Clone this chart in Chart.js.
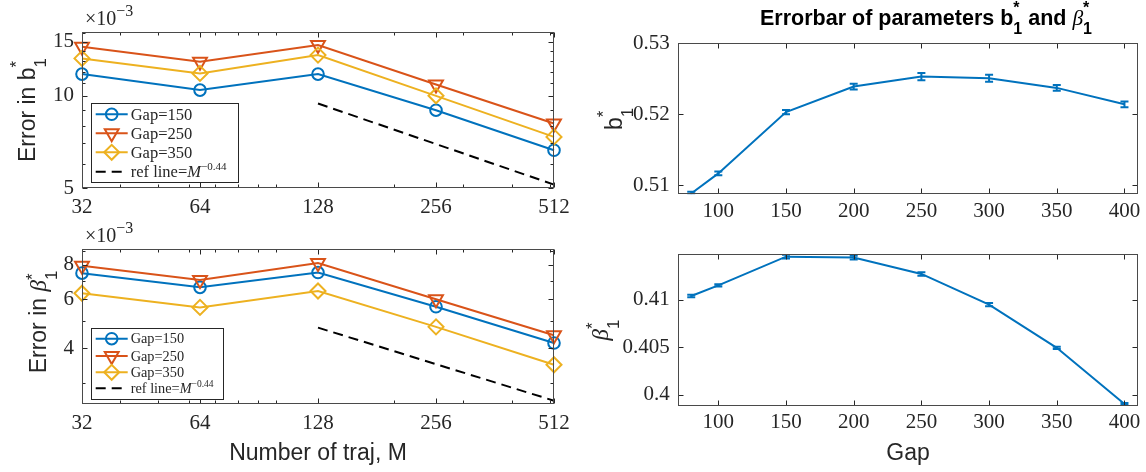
<!DOCTYPE html>
<html>
<head>
<meta charset="utf-8">
<script src="https://cdn.jsdelivr.net/npm/chart.js@4.4.1/dist/chart.umd.min.js"></script>
<style>
html, body { margin: 0; padding: 0; background: #fff; }
#wrap { position: relative; width: 1146px; height: 472px; overflow: hidden; }
#wrap canvas { position: absolute; left: 0; top: 0; }
</style>
</head>
<body>
<div id="wrap">
<canvas id="errB1" width="1146" height="472"></canvas>
<canvas id="errBeta" width="1146" height="472"></canvas>
<canvas id="b1" width="1146" height="472"></canvas>
<canvas id="beta" width="1146" height="472"></canvas>
</div>
<script>
// number of trajectories M
const trajM = [32, 64, 128, 256, 512];
// error in b1*, units of 1e-3
const errB1Gap150 = [11.77, 10.44, 11.77, 8.98, 6.65];
const errB1Gap250 = [14.45, 12.91, 14.64, 10.89, 8.13];
const errB1Gap350 = [13.24, 11.83, 13.57, 10.0, 7.35];
// error in beta1*, units of 1e-3
const errBetaGap150 = [7.46, 6.63, 7.5, 5.64, 4.17];
const errBetaGap250 = [7.93, 7.05, 8.12, 6.0, 4.45];
const errBetaGap350 = [6.31, 5.61, 6.43, 4.77, 3.48];
// reference line M^-0.44, end points
const refM = [128, 512];
const refB1 = [9.44, 5.14];
const refBeta = [4.74, 2.58];

// parameter estimates vs gap
const gaps = [80, 100, 150, 200, 250, 300, 350, 400];
const b1Mean = [0.50882, 0.51165, 0.5203, 0.5239, 0.5253, 0.52507, 0.52371, 0.52139];
const b1Err = [0.00025, 0.00025, 0.0003, 0.0004, 0.0005, 0.0005, 0.0004, 0.0004];
const betaMean = [0.41042, 0.41154, 0.41456, 0.41446, 0.41274, 0.40951, 0.40496, 0.39905];
const betaErr = [0.00012, 0.00012, 0.0002, 0.0002, 0.00018, 0.00016, 0.00012, 0.0001];

// tick labels
const mTicks = [32, 64, 128, 256, 512];
const mMinor = [40, 50, 60, 70, 80, 90, 100, 200, 300, 400, 500];
const errB1Ticks = [5, 10, 15];
const errB1Minor = [6, 7, 8, 9, 11, 12, 13, 14, 16];
const errBetaTicks = [4, 6, 8];
const errBetaMinor = [3, 5, 7, 9];
const gapTicks = [100, 150, 200, 250, 300, 350, 400];
const b1Ticks = [0.51, 0.52, 0.53];
const betaTicks = [0.4, 0.405, 0.41];

const W = 1146, H = 472;
const BLUE = '#0072BD', RED = '#D95319', YELLOW = '#EDB120';
const AXIS = '#262626';
const SERIF = '"Liberation Serif", "Times New Roman", serif';
const SANS = '"Liberation Sans", Arial, sans-serif';

const decoById = {};

function drawRich(ctx, runs, x, y, align, rot) {
    ctx.save();
    ctx.translate(x, y);
    if (rot) ctx.rotate(rot);
    ctx.textBaseline = 'alphabetic';
    ctx.textAlign = 'left';
    const ws = runs.map((r) => {
        ctx.font = r.f;
        if (r.t !== undefined) return ctx.measureText(r.t).width;
        return Math.max(r.sub ? ctx.measureText(r.sub).width : 0, r.sup ? ctx.measureText(r.sup).width : 0);
    });
    const total = ws.reduce((a, b) => a + b, 0);
    let cx = align === 'center' ? -total / 2 : align === 'right' ? -total : 0;
    runs.forEach((r, i) => {
        ctx.font = r.f;
        ctx.fillStyle = r.c || AXIS;
        if (r.t !== undefined) {
            ctx.fillText(r.t, cx, 0);
        } else {
            if (r.sub) ctx.fillText(r.sub, cx, r.dSub);
            if (r.sup) ctx.fillText(r.sup, cx, r.dSup);
        }
        cx += ws[i];
    });
    ctx.restore();
}

function marker(ctx, style, x, y, r) {
    ctx.beginPath();
    if (style === 'circle') {
        ctx.arc(x, y, r, 0, Math.PI * 2);
    } else if (style === 'triangle') {
        const s = r * Math.sin(Math.PI / 3);
        ctx.moveTo(x - s, y - r / 2);
        ctx.lineTo(x + s, y - r / 2);
        ctx.lineTo(x, y + r);
        ctx.closePath();
    } else {
        ctx.moveTo(x - r, y);
        ctx.lineTo(x, y - r);
        ctx.lineTo(x + r, y);
        ctx.lineTo(x, y + r);
        ctx.closePath();
    }
    ctx.stroke();
}

function drawLegend(ctx, lg) {
    ctx.save();
    ctx.fillStyle = '#fff';
    ctx.fillRect(lg.x, lg.y, lg.w, lg.h);
    ctx.strokeStyle = AXIS;
    ctx.lineWidth = 1;
    ctx.strokeRect(Math.round(lg.x) + 0.5, Math.round(lg.y) + 0.5, Math.round(lg.w), Math.round(lg.h));
    lg.rows.forEach((row, i) => {
        const y = lg.rowY[i];
        ctx.strokeStyle = row.color;
        ctx.lineWidth = 2;
        ctx.setLineDash(row.dash || []);
        ctx.beginPath();
        ctx.moveTo(lg.x + 5, y);
        ctx.lineTo(lg.x + 37, y);
        ctx.stroke();
        ctx.setLineDash([]);
        if (row.marker) marker(ctx, row.marker, lg.x + 21, y, row.r);
        drawRich(ctx, row.label, lg.x + 40, y + lg.fs * 0.33, 'left');
    });
    ctx.restore();
}

function drawErrorBars(chart, eb) {
    const ctx = chart.ctx, a = chart.chartArea;
    const xs = chart.scales.x, ys = chart.scales.y;
    ctx.save();
    ctx.beginPath();
    ctx.rect(a.left, a.top, a.right - a.left, a.bottom - a.top);
    ctx.clip();
    ctx.strokeStyle = BLUE;
    ctx.lineWidth = 2;
    eb.x.forEach((g, i) => {
        const px = xs.getPixelForValue(g);
        const y1 = ys.getPixelForValue(eb.y[i] - eb.e[i]);
        const y2 = ys.getPixelForValue(eb.y[i] + eb.e[i]);
        ctx.beginPath();
        ctx.moveTo(px, y1); ctx.lineTo(px, y2);
        ctx.moveTo(px - 4, y1); ctx.lineTo(px + 4, y1);
        ctx.moveTo(px - 4, y2); ctx.lineTo(px + 4, y2);
        ctx.stroke();
    });
    ctx.restore();
}

const decoPlugin = {
    id: 'deco',
    afterDatasetsDraw(chart) {
        const d = decoById[chart.canvas.id];
        if (d && d.err) drawErrorBars(chart, d.err);
    },
    afterDraw(chart) {
        const d = decoById[chart.canvas.id];
        if (!d) return;
        const ctx = chart.ctx, a = chart.chartArea;
        const xs = chart.scales.x, ys = chart.scales.y;
        ctx.save();
        ctx.strokeStyle = AXIS;
        ctx.lineWidth = 1;
        const L = Math.round(a.left) + 0.5, R = Math.round(a.right) - 0.5;
        const T = Math.round(a.top) + 0.5, B = Math.round(a.bottom) - 0.5;
        function xTicks(vals, len) {
            vals.forEach((v) => {
                const p = Math.round(xs.getPixelForValue(v)) + 0.5;
                ctx.beginPath();
                ctx.moveTo(p, B); ctx.lineTo(p, B - len);
                ctx.moveTo(p, T); ctx.lineTo(p, T + len);
                ctx.stroke();
            });
        }
        function yTicks(vals, len) {
            vals.forEach((v) => {
                const p = Math.round(ys.getPixelForValue(v)) + 0.5;
                ctx.beginPath();
                ctx.moveTo(L, p); ctx.lineTo(L + len, p);
                ctx.moveTo(R, p); ctx.lineTo(R - len, p);
                ctx.stroke();
            });
        }
        xTicks(d.xTicks, 5);
        yTicks(d.yTicks, 5);
        if (d.xMinor) xTicks(d.xMinor, 3);
        if (d.yMinor) yTicks(d.yMinor, 3);
        ctx.strokeStyle = '#4a4a4a';
        ctx.strokeRect(L, T, R - L, B - T);
        ctx.restore();

        if (d.legend) drawLegend(ctx, d.legend);
        if (d.ylabel) drawRich(ctx, d.ylabel.runs, d.ylabel.x, d.ylabel.y, 'center', -Math.PI / 2);
        if (d.xlabel) drawRich(ctx, d.xlabel.runs, d.xlabel.x, d.xlabel.y, 'center');
        if (d.title) drawRich(ctx, d.title.runs, d.title.x, d.title.y, 'left');
        if (d.exponent) drawRich(ctx, d.exponent.runs, d.exponent.x, d.exponent.y, 'left');
    }
};

function makeChart(id, area, cfg) {
    const yW = 60, xH = 40;
    decoById[id] = cfg.deco;
    const axisCommon = {
        bounds: 'data',
        grid: { display: true, drawOnChartArea: false, drawTicks: false },
        border: { display: false },
    };
    return new Chart(document.getElementById(id), {
        type: 'line',
        data: { datasets: cfg.datasets },
        options: {
            responsive: false,
            animation: false,
            devicePixelRatio: 1,
            layout: {
                padding: { left: area.left - yW, top: area.top, right: W - area.right, bottom: H - area.bottom - xH },
            },
            plugins: { legend: { display: false }, tooltip: { enabled: false } },
            scales: {
                x: Object.assign({}, axisCommon, {
                    type: cfg.xType,
                    min: cfg.xMin,
                    max: cfg.xMax,
                    afterFit: (s) => { s.height = xH; },
                    afterBuildTicks: (s) => { s.ticks = cfg.deco.xTicks.map((v) => ({ value: v })); },
                    ticks: {
                        font: { family: SERIF, size: cfg.tickSize },
                        color: AXIS,
                        padding: cfg.xPad,
                        autoSkip: false,
                        maxRotation: 0,
                        callback: (v) => String(v),
                    },
                }),
                y: Object.assign({}, axisCommon, {
                    type: cfg.yType,
                    min: cfg.yMin,
                    max: cfg.yMax,
                    afterFit: (s) => { s.width = yW; },
                    afterBuildTicks: (s) => { s.ticks = cfg.deco.yTicks.map((v) => ({ value: v })); },
                    ticks: {
                        font: { family: SERIF, size: cfg.tickSize },
                        color: AXIS,
                        padding: 8,
                        autoSkip: false,
                        callback: (v) => String(v),
                    },
                }),
            },
        },
        plugins: [decoPlugin],
    });
}

function errSeries(ys, color, style, rot, radius) {
    return {
        data: trajM.map((m, i) => ({ x: m, y: ys[i] })),
        borderColor: color,
        backgroundColor: 'rgba(0,0,0,0)',
        borderWidth: 2,
        pointStyle: style,
        pointRotation: rot,
        pointRadius: radius,
        pointBorderColor: color,
        pointBackgroundColor: 'rgba(0,0,0,0)',
        pointBorderWidth: 2,
        tension: 0,
        clip: false,
    };
}

function refSeries(ys) {
    return {
        data: refM.map((m, i) => ({ x: m, y: ys[i] })),
        borderColor: '#000',
        borderDash: [10, 6],
        borderWidth: 2,
        pointRadius: 0,
        clip: false,
    };
}

function legendRows(fs, supFs) {
    return [
        { color: BLUE, marker: 'circle', r: 5.8, label: [{ t: 'Gap=150', f: fs + 'px ' + SERIF }] },
        { color: RED, marker: 'triangle', r: 8, label: [{ t: 'Gap=250', f: fs + 'px ' + SERIF }] },
        { color: YELLOW, marker: 'diamond', r: 7.5, label: [{ t: 'Gap=350', f: fs + 'px ' + SERIF }] },
        {
            color: '#000', dash: [10, 6], label: [
                { t: 'ref line=', f: fs + 'px ' + SERIF },
                { t: 'M', f: 'italic ' + fs + 'px ' + SERIF },
                { sup: '\u22120.44', f: supFs + 'px ' + SERIF, dSup: -fs * 0.42 },
            ],
        },
    ];
}

function subSup(fs, dSub, dSup, bold) {
    return { sub: '1', sup: '*', f: (bold ? 'bold ' : '') + fs + 'px ' + SANS, dSub: dSub, dSup: dSup };
}

// top left: error in b1*
makeChart('errB1', { left: 82, top: 32.3, right: 554, bottom: 188.3 }, {
    xType: 'logarithmic', xMin: 32, xMax: 512,
    yType: 'logarithmic', yMin: 5, yMax: 16.1,
    tickSize: 21, xPad: 7,
    datasets: [
        refSeries(refB1),
        errSeries(errB1Gap350, YELLOW, 'rectRot', 0, 7.5),
        errSeries(errB1Gap250, RED, 'triangle', 180, 8),
        errSeries(errB1Gap150, BLUE, 'circle', 0, 5.8),
    ],
    deco: {
        xTicks: mTicks, xMinor: mMinor, yTicks: errB1Ticks, yMinor: errB1Minor,
        legend: { x: 90.7, y: 103.3, w: 146.6, h: 79.4, fs: 16.5, rowY: [114.3, 133.3, 152.3, 171.7], rows: legendRows(16.5, 11) },
        ylabel: { x: 34.5, y: 110, runs: [{ t: 'Error in b', f: '23px ' + SANS }, subSup(17, 11, -13)] },
        exponent: { x: 85, y: 25, runs: [{ t: '\u00d710', f: '20px ' + SERIF }, { sup: '\u22123', f: '16px ' + SERIF, dSup: -9 }] },
    },
});

// bottom left: error in beta1*
makeChart('errBeta', { left: 82, top: 249.3, right: 554, bottom: 403.5 }, {
    xType: 'logarithmic', xMin: 32, xMax: 512,
    yType: 'logarithmic', yMin: 2.52, yMax: 9.1,
    tickSize: 21, xPad: 7,
    datasets: [
        refSeries(refBeta),
        errSeries(errBetaGap350, YELLOW, 'rectRot', 0, 7.5),
        errSeries(errBetaGap250, RED, 'triangle', 180, 8),
        errSeries(errBetaGap150, BLUE, 'circle', 0, 5.8),
    ],
    deco: {
        xTicks: mTicks, xMinor: mMinor, yTicks: errBetaTicks, yMinor: errBetaMinor,
        legend: { x: 90.7, y: 328.3, w: 132, h: 70.7, fs: 14.3, rowY: [338.7, 356, 372.3, 388.3], rows: legendRows(14.3, 9.5) },
        ylabel: { x: 45.5, y: 322, runs: [{ t: 'Error in ', f: '23px ' + SANS }, { t: '\u03b2', f: 'italic 23px ' + SERIF }, subSup(17, 11, -8)] },
        xlabel: { x: 318, y: 460, runs: [{ t: 'Number of traj, M', f: '23px ' + SANS }] },
        exponent: { x: 85, y: 242, runs: [{ t: '\u00d710', f: '20px ' + SERIF }, { sup: '\u22123', f: '16px ' + SERIF, dSup: -9 }] },
    },
});

// top right: b1* vs gap
makeChart('b1', { left: 677.7, top: 43.3, right: 1138, bottom: 194.3 }, {
    xType: 'linear', xMin: 70, xMax: 410,
    yType: 'linear', yMin: 0.5087, yMax: 0.53,
    tickSize: 21, xPad: 5,
    datasets: [{
        data: gaps.map((g, i) => ({ x: g, y: b1Mean[i] })),
        borderColor: BLUE, borderWidth: 2, pointRadius: 0, tension: 0,
    }],
    deco: {
        xTicks: gapTicks, yTicks: b1Ticks,
        err: { x: gaps, y: b1Mean, e: b1Err },
        ylabel: { x: 622, y: 119, runs: [{ t: 'b', f: '23px ' + SANS }, subSup(17, 11, -13)] },
        title: {
            x: 760, y: 25, runs: [
                { t: 'Errorbar of parameters b', f: 'bold 21.5px ' + SANS, c: '#000' },
                Object.assign(subSup(16, 9, -12, true), { c: '#000' }),
                { t: ' and ', f: 'bold 21.5px ' + SANS, c: '#000' },
                { t: '\u03b2', f: 'italic 21.5px ' + SERIF, c: '#000' },
                Object.assign(subSup(16, 9, -12, true), { c: '#000' }),
            ],
        },
    },
});

// bottom right: beta1* vs gap
makeChart('beta', { left: 677.7, top: 254, right: 1138, bottom: 405.7 }, {
    xType: 'linear', xMin: 70, xMax: 410,
    yType: 'linear', yMin: 0.39887, yMax: 0.41484,
    tickSize: 21, xPad: 4,
    datasets: [{
        data: gaps.map((g, i) => ({ x: g, y: betaMean[i] })),
        borderColor: BLUE, borderWidth: 2, pointRadius: 0, tension: 0,
    }],
    deco: {
        xTicks: gapTicks, yTicks: betaTicks,
        err: { x: gaps, y: betaMean, e: betaErr },
        ylabel: { x: 608, y: 330, runs: [{ t: '\u03b2', f: 'italic 23px ' + SERIF }, subSup(17, 11, -10)] },
        xlabel: { x: 908, y: 460, runs: [{ t: 'Gap', f: '23px ' + SANS }] },
    },
});
</script>
</body>
</html>
